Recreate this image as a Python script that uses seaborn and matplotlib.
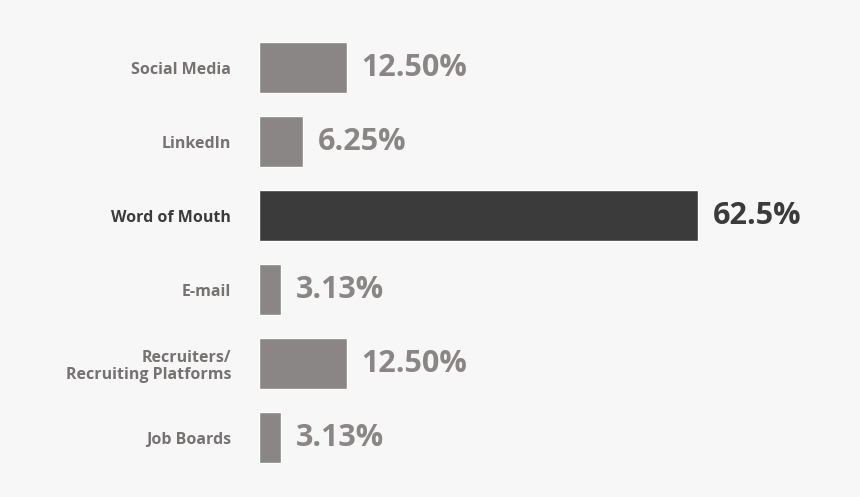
import matplotlib.pyplot as plt
import seaborn as sns
import pandas as pd

categories = ['Social Media', 'LinkedIn', 'Word of Mouth', 'E-mail',
              'Recruiters/\nRecruiting Platforms', 'Job Boards']
values = [12.5, 6.25, 62.5, 3.13, 12.5, 3.13]
value_labels = ['12.50%', '6.25%', '62.5%', '3.13%', '12.50%', '3.13%']
highlight = 'Word of Mouth'

sns.set_style('white')
plt.rcParams['font.family'] = ['Open Sans', 'DejaVu Sans']

bg = '#f7f7f7'
grey = '#8b8686'
dark = '#3b3b3b'
df = pd.DataFrame({'category': categories, 'value': values})
palette = {c: (dark if c == highlight else grey) for c in categories}

fig = plt.figure(figsize=(8.6, 4.97), dpi=100, facecolor=bg)
ax = fig.add_axes([0.301, 0.045, 0.699, 0.893])
ax.set_facecolor(bg)
sns.barplot(data=df, x='value', y='category', hue='category', palette=palette,
            width=0.69, legend=False, ax=ax, saturation=1)
ax.set_xlim(0, 85.6)
ax.set_ylim(5.5, -0.5)
for i, (v, lab, c) in enumerate(zip(values, value_labels, categories)):
    col = dark if c == highlight else grey
    ax.text(v + 2.1, i, lab, va='center', ha='left', fontsize=22,
            fontweight='bold', color=col)
ax.set_yticks(range(len(categories)))
ax.set_yticklabels(categories, fontsize=11.5, fontweight='bold', linespacing=1.1)
for t, c in zip(ax.get_yticklabels(), categories):
    t.set_color(dark if c == highlight else '#777272')
    t.set_ha('right')
ax.tick_params(axis='y', length=0, pad=20)
ax.set_xticks([])
ax.set_xlabel('')
ax.set_ylabel('')
sns.despine(ax=ax, left=True, bottom=True)
fig.savefig('out.png', dpi=100, facecolor=bg)
